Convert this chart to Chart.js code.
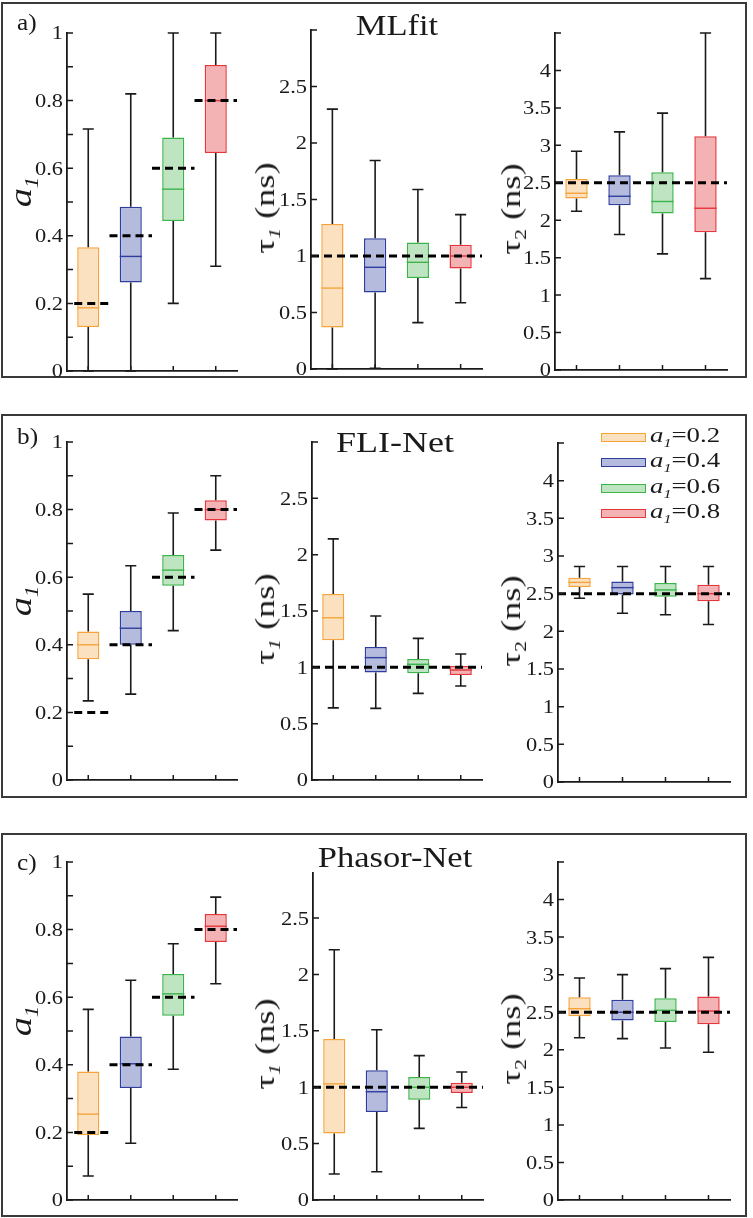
<!DOCTYPE html>
<html>
<head>
<meta charset="utf-8">
<script src="https://cdn.jsdelivr.net/npm/chart.js@4.4.0/dist/chart.umd.min.js"></script>
<style>
  body { margin: 0; background: #fff; width: 753px; height: 1218px; overflow: hidden; position: relative;
         font-family: 'Liberation Serif', 'Times New Roman', serif; color: #1a1a1a; }
  .frame { position: absolute; border: 2px solid #3a3a3a; box-sizing: border-box; }
  canvas { position: absolute; }
  .txt { position: absolute; white-space: nowrap; line-height: 1; transform-origin: 0 0; }
  .txt sub { font-size: 0.6em; vertical-align: -0.35em; line-height: 0; }
  .lbox { position: absolute; box-sizing: border-box; border: 1.5px solid; }
</style>
</head>
<body>
<div class="frame" style="left:1px;top:2px;width:746px;height:376px"></div>
<div class="frame" style="left:1px;top:414px;width:746px;height:384px"></div>
<div class="frame" style="left:1px;top:833px;width:746px;height:384px"></div>
<script>
// groups (true a1 of the simulated data)
const groups = ['a1=0.2', 'a1=0.4', 'a1=0.6', 'a1=0.8'];
const legendText = ['0.2', '0.4', '0.6', '0.8'];
const lineColors = ['#F5A43C', '#2F3E9E', '#3BB44A', '#E6353B'];
const fillColors = ['#FCE1C1', '#B5BBDD', '#BEE4C2', '#F3B2B4'];

// true values (dashed lines)
const trueA1 = [0.2, 0.4, 0.6, 0.8];
const trueTau1 = 1.0;
const trueTau2 = 2.5;

// box stats: [min, q1, median, q3, max]
const mlfitA1 = [[0, 0.13, 0.187, 0.366, 0.716], [0, 0.262, 0.339, 0.486, 0.82], [0.2, 0.444, 0.538, 0.691, 1.0], [0.31, 0.645, 0.8, 0.905, 1.0]];
const mlfitTau1 = [[0, 0.368, 0.716, 1.284, 2.30], [0.006, 0.678, 0.90, 1.157, 1.845], [0.41, 0.805, 0.944, 1.12, 1.588], [0.586, 0.89, 1.0, 1.10, 1.366]];
const mlfitTau2 = [[2.12, 2.29, 2.36, 2.55, 2.92], [1.81, 2.2, 2.32, 2.6, 3.18], [1.55, 2.09, 2.25, 2.64, 3.43], [1.22, 1.84, 2.16, 3.12, 4.5]];

const fliA1 = [[0.234, 0.357, 0.40, 0.439, 0.55], [0.254, 0.4, 0.449, 0.5, 0.634], [0.442, 0.575, 0.621, 0.666, 0.79], [0.68, 0.768, 0.8, 0.828, 0.90]];
const fliTau1 = [[0.64, 1.24, 1.44, 1.65, 2.14], [0.636, 0.955, 1.086, 1.18, 1.455], [0.769, 0.947, 1.027, 1.074, 1.257], [0.834, 0.932, 0.976, 1.012, 1.118]];
const fliTau2 = [[2.44, 2.59, 2.65, 2.71, 2.86], [2.24, 2.49, 2.58, 2.66, 2.86], [2.22, 2.46, 2.55, 2.64, 2.86], [2.09, 2.40, 2.50, 2.62, 2.86]];

const phasorA1 = [[0.071, 0.192, 0.254, 0.38, 0.564], [0.168, 0.331, 0.403, 0.484, 0.65], [0.387, 0.545, 0.61, 0.669, 0.758], [0.64, 0.763, 0.81, 0.846, 0.896]];
const phasorTau1 = [[0.23, 0.59, 1.03, 1.427, 2.22], [0.25, 0.78, 0.96, 1.15, 1.51], [0.635, 0.89, 1.0, 1.09, 1.28], [0.82, 0.95, 1.0, 1.04, 1.135]];
const phasorTau2 = [[2.16, 2.445, 2.547, 2.70, 2.955], [2.148, 2.39, 2.5, 2.667, 3.0], [2.024, 2.37, 2.525, 2.685, 3.08], [1.967, 2.339, 2.516, 2.71, 3.23]];

const INK = '#1a1a1a';
const fmt = v => String(+v.toFixed(1));

// whiskers, medians, dashed true values, inward ticks and stretched tick labels
const boxStats = {
  id: 'boxStats',
  afterDatasetsDraw(chart) {
    const ds = chart.data.datasets[0];
    const { ctx, scales: { x, y } } = chart;
    const meta = chart.getDatasetMeta(0);
    ctx.save();
    ds.stats.forEach((s, i) => {
      const cx = x.getPixelForValue(i);
      const hw = meta.data[i].width / 2;
      const py = s.map(v => y.getPixelForValue(v));
      ctx.strokeStyle = INK;
      ctx.lineWidth = 1.6;
      ctx.beginPath();
      ctx.moveTo(cx, py[4]); ctx.lineTo(cx, py[3]);
      ctx.moveTo(cx, py[1]); ctx.lineTo(cx, py[0]);
      ctx.moveTo(cx - hw / 2, py[4]); ctx.lineTo(cx + hw / 2, py[4]);
      ctx.moveTo(cx - hw / 2, py[0]); ctx.lineTo(cx + hw / 2, py[0]);
      ctx.stroke();
      ctx.strokeStyle = lineColors[i];
      ctx.lineWidth = 1.4;
      ctx.beginPath();
      ctx.moveTo(cx - hw, py[2]); ctx.lineTo(cx + hw, py[2]);
      ctx.stroke();
    });
    ctx.strokeStyle = '#000';
    ctx.lineWidth = 3;
    ctx.setLineDash([8, 5]);
    ds.refs.forEach(r => {
      const py = y.getPixelForValue(r.v);
      ctx.beginPath();
      ctx.moveTo(x.getPixelForValue(r.from), py);
      ctx.lineTo(x.getPixelForValue(r.to), py);
      ctx.stroke();
    });
    ctx.restore();
  },
  afterDraw(chart) {
    const ds = chart.data.datasets[0];
    const { ctx, chartArea: area, scales: { x, y } } = chart;
    ctx.save();
    ctx.strokeStyle = INK;
    ctx.lineWidth = 1.5;
    ctx.beginPath();
    y.ticks.forEach(t => {
      const py = y.getPixelForValue(t.value);
      ctx.moveTo(area.left, py); ctx.lineTo(area.left + 6, py);
    });
    groups.forEach((g, i) => {
      const px = x.getPixelForValue(i);
      ctx.moveTo(px, area.bottom); ctx.lineTo(px, area.bottom - 5);
    });
    ctx.stroke();
    ctx.fillStyle = INK;
    ctx.font = '19px "Liberation Serif", "Times New Roman", serif';
    ctx.textAlign = 'right';
    ctx.textBaseline = 'alphabetic';
    y.ticks.forEach(t => {
      if (!ds.showLabel(t.value)) return;
      const py = y.getPixelForValue(t.value);
      ctx.save();
      ctx.translate(area.left - 4, py + 6.4);
      ctx.scale(1.18, 1);
      ctx.fillText(fmt(t.value), 0, 0);
      ctx.restore();
    });
    ctx.restore();
  }
};

function makeChart(stats, refs, yMax, step, showLabel, box) {
  const [x0, x1, y0, y1] = box.map(Math.round);
  const padL = 50, padR = 6, padT = 14, padB = 14;
  const w = x1 - x0 + padL + padR, h = y1 - y0 + padT + padB;
  const canvas = document.createElement('canvas');
  canvas.width = w; canvas.height = h;
  canvas.style.left = (x0 - padL) + 'px';
  canvas.style.top = (y0 - padT) + 'px';
  canvas.style.width = w + 'px';
  canvas.style.height = h + 'px';
  document.body.appendChild(canvas);
  new Chart(canvas, {
    type: 'bar',
    data: {
      labels: groups,
      datasets: [{
        data: stats.map(s => [s[1], s[3]]),
        stats, refs, showLabel,
        backgroundColor: fillColors,
        borderColor: lineColors,
        borderWidth: 1.5,
        borderSkipped: false,
        barPercentage: 0.52,
        categoryPercentage: 1
      }]
    },
    options: {
      responsive: false,
      animation: false,
      devicePixelRatio: 1,
      layout: { padding: { left: 0, right: padR, top: padT, bottom: padB } },
      plugins: { legend: { display: false }, tooltip: { enabled: false } },
      scales: {
        x: {
          grid: { display: false },
          ticks: { display: false },
          border: { display: true, color: INK, width: 1.8 },
          afterFit: s => { s.height = 0; }
        },
        y: {
          min: 0, max: yMax,
          grid: { display: false },
          ticks: { display: false, stepSize: step, includeBounds: false, autoSkip: false },
          border: { display: true, color: INK, width: 1.8 },
          afterFit: s => { s.width = padL; }
        }
      }
    },
    plugins: [boxStats]
  });
}

function addText(html, x, baseline, size, k, center) {
  const d = document.createElement('div');
  d.className = 'txt';
  d.innerHTML = html;
  d.style.fontSize = size + 'px';
  d.style.left = x + 'px';
  d.style.top = (baseline - 0.8375 * size) + 'px';
  d.style.transform = center ? `scaleX(${k}) translateX(-50%)` : `scaleX(${k})`;
  document.body.appendChild(d);
}

function addVText(html, cx, cy, size, k) {
  const d = document.createElement('div');
  d.className = 'txt';
  d.innerHTML = html;
  d.style.fontSize = size + 'px';
  d.style.left = cx + 'px';
  d.style.top = cy + 'px';
  d.style.transform = `rotate(-90deg) scaleX(${k}) translate(-50%, -50%)`;
  document.body.appendChild(d);
}

const a1Refs = trueA1.map((v, i) => ({ v, from: i - (i === 0 ? 0.33 : 0.5), to: i + 0.5 }));
const tau1Refs = [{ v: trueTau1, from: -0.5, to: 3.5 }];
const tau2Refs = [{ v: trueTau2, from: -0.5, to: 3.5 }];
const a1Label = v => Math.abs(v / 0.2 - Math.round(v / 0.2)) < 1e-6;
const tau1Label = v => v <= 2.5 + 1e-9;
const tau2Label = v => v <= 4 + 1e-9;

const rows = [
  { a1: mlfitA1, t1: mlfitTau1, t2: mlfitTau2, t1Max: 3,
    boxes: [[67, 237, 33, 371], [311, 482, 30.3, 369], [555, 727, 32.5, 370]] },
  { a1: fliA1, t1: fliTau1, t2: fliTau2, t1Max: 3,
    boxes: [[67, 237, 442, 780], [312, 482, 442, 780], [558, 730, 443.4, 782]] },
  { a1: phasorA1, t1: phasorTau1, t2: phasorTau2, t1Max: 2.9,
    boxes: [[67, 237, 862.3, 1200], [313, 483, 872.6, 1200], [558, 730, 861.6, 1200]] }
];

rows.forEach(r => {
  makeChart(r.a1, a1Refs, 1, 0.1, a1Label, r.boxes[0]);
  makeChart(r.t1, tau1Refs, r.t1Max, 0.5, tau1Label, r.boxes[1]);
  makeChart(r.t2, tau2Refs, 4.5, 0.5, tau2Label, r.boxes[2]);
  const mid = b => (b[2] + b[3]) / 2;
  addVText('<i>a</i><sub><i>1</i></sub>', 20, mid(r.boxes[0]) - 10, 32, 1.2);
  addVText('τ<sub><i>1</i></sub> (ns)', 265, mid(r.boxes[1]) + 8, 28, 1.3);
  addVText('τ<sub>2</sub> (ns)', 511, mid(r.boxes[2]) + 8, 28, 1.3);
});

// panel letters and titles
addText('a)', 17, 30, 23, 1.1, false);
addText('b)', 17, 444, 23, 1.1, false);
addText('c)', 17, 870, 23, 1.1, false);
addText('MLfit', 397, 35, 30, 1.15, true);
addText('FLI-Net', 395, 452, 30, 1.2, true);
addText('Phasor-Net', 395, 867, 30, 1.15, true);

// legend (panel b, right plot)
const legendY = [437, 462, 488, 513];
legendText.forEach((t, i) => {
  const b = document.createElement('div');
  b.className = 'lbox';
  b.style.left = '601px';
  b.style.top = (legendY[i] - 4.5) + 'px';
  b.style.width = '45px';
  b.style.height = '9px';
  b.style.borderColor = lineColors[i];
  b.style.background = fillColors[i];
  document.body.appendChild(b);
  addText('<i>a</i><sub><i>1</i></sub>=' + t, 650, legendY[i] + 5.5, 22, 1.22, false);
});
</script>
</body>
</html>
